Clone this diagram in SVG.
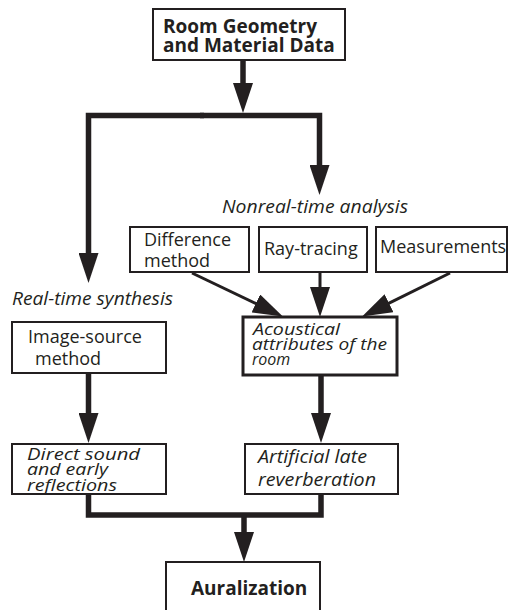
<svg xmlns="http://www.w3.org/2000/svg" width="508" height="610" viewBox="0 0 508 610">
  <style>
    .box { fill: #ffffff; stroke: #231f20; stroke-width: 2; }
    .box-thick { fill: #ffffff; stroke: #231f20; stroke-width: 3; }
    .t { font-family: "Open Sans", "DejaVu Sans", sans-serif; font-size: 18px; fill: #231f20; }
    .ti { font-family: "Open Sans", "DejaVu Sans", sans-serif; font-size: 17.5px; font-style: italic; fill: #231f20; }
    .ti-tight { font-family: "Open Sans", "DejaVu Sans", sans-serif; font-size: 16px; font-style: italic; fill: #231f20; }
    .ti-large { font-family: "Open Sans", "DejaVu Sans", sans-serif; font-size: 18.5px; font-style: italic; fill: #231f20; }
    .tb { font-family: "Open Sans", "DejaVu Sans", sans-serif; font-size: 19px; font-weight: bold; fill: #231f20; }
    .heavy { fill: none; stroke: #231f20; stroke-width: 5.5; stroke-linejoin: miter; }
    .light { fill: none; stroke: #231f20; stroke-width: 3; }
  </style>
  <defs>
    <marker id="head" markerUnits="userSpaceOnUse" markerWidth="31" markerHeight="20" refX="1" refY="10" orient="auto">
      <path d="M0,0 L30,10 L0,20 z" fill="#231f20"/>
    </marker>
  </defs>

  <rect width="508" height="610" fill="#ffffff"/>

  <!-- connectors -->
  <g id="connectors">
    <line class="heavy" x1="243" y1="60" x2="243" y2="84" marker-end="url(#head)"/>
    <path class="heavy" d="M204,115.5 H88.5 V254" marker-end="url(#head)"/>
    <path class="heavy" d="M200,115.5 H319.5 V166" marker-end="url(#head)"/>
    <line class="light" x1="192" y1="273" x2="256.7" y2="303.9" marker-end="url(#head)"/>
    <line class="light" x1="320" y1="272" x2="320" y2="288" marker-end="url(#head)"/>
    <line class="light" x1="450" y1="273" x2="388.1" y2="303.6" marker-end="url(#head)"/>
    <line class="heavy" x1="88.5" y1="373" x2="88.5" y2="414" marker-end="url(#head)"/>
    <line class="heavy" x1="321" y1="376" x2="321" y2="414" marker-end="url(#head)"/>
    <path class="heavy" d="M88.5,494 V515 H321 V494"/>
    <line class="heavy" x1="244" y1="515" x2="244" y2="533" marker-end="url(#head)"/>
  </g>

  <!-- section labels -->
  <text class="ti" x="222" y="213" textLength="186" lengthAdjust="spacingAndGlyphs">Nonreal-time analysis</text>
  <text class="ti" x="12" y="305" textLength="161" lengthAdjust="spacingAndGlyphs">Real-time synthesis</text>

  <g id="room-data">
    <rect class="box" x="153" y="9" width="192" height="51"/>
    <text class="tb" x="163" y="33">Room Geometry</text>
    <text class="tb" x="163" y="52">and Material Data</text>
  </g>

  <g id="difference-method">
    <rect class="box" x="130" y="227" width="119" height="45"/>
    <text class="t" x="144" y="246">Difference</text>
    <text class="t" x="144" y="267">method</text>
  </g>

  <g id="ray-tracing">
    <rect class="box" x="259" y="227" width="108" height="45"/>
    <text class="t" x="264" y="255">Ray-tracing</text>
  </g>

  <g id="measurements">
    <rect class="box" x="376" y="227" width="131" height="45"/>
    <text class="t" x="380" y="253">Measurements</text>
  </g>

  <g id="image-source">
    <rect class="box" x="12" y="322" width="154" height="51"/>
    <text class="t" x="28" y="343">Image-source</text>
    <text class="t" x="35" y="365">method</text>
  </g>

  <g id="acoustical-attributes">
    <rect class="box-thick" x="243" y="317" width="154" height="58"/>
    <text class="ti-tight" x="253" y="335" textLength="87" lengthAdjust="spacingAndGlyphs">Acoustical</text>
    <text class="ti-tight" x="252" y="350" textLength="135" lengthAdjust="spacingAndGlyphs">attributes of the</text>
    <text class="ti-tight" x="252" y="365">room</text>
  </g>

  <g id="direct-sound">
    <rect class="box" x="12" y="444" width="154" height="50"/>
    <text class="ti-tight" x="27" y="460" textLength="113" lengthAdjust="spacingAndGlyphs">Direct sound</text>
    <text class="ti-tight" x="27" y="475" textLength="81" lengthAdjust="spacingAndGlyphs">and early</text>
    <text class="ti-tight" x="27" y="491" textLength="90" lengthAdjust="spacingAndGlyphs">reflections</text>
  </g>

  <g id="late-reverberation">
    <rect class="box" x="245" y="444" width="153" height="50"/>
    <text class="ti-large" x="258" y="463" textLength="109" lengthAdjust="spacingAndGlyphs">Artificial late</text>
    <text class="ti-large" x="258" y="486" textLength="118" lengthAdjust="spacingAndGlyphs">reverberation</text>
  </g>

  <g id="auralization">
    <rect class="box" x="166" y="562" width="154" height="60"/>
    <text class="tb" x="191" y="595">Auralization</text>
  </g>
</svg>
